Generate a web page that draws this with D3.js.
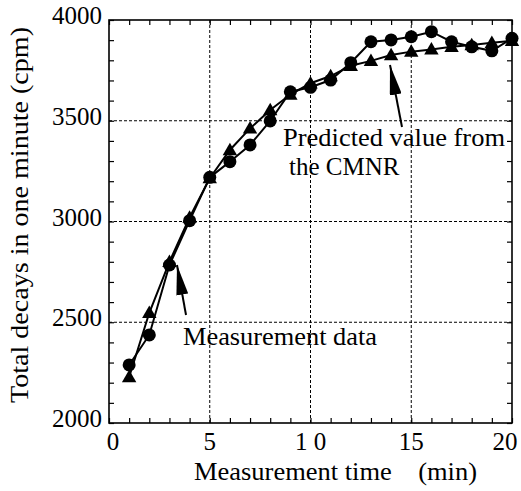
<!DOCTYPE html>
<html>
<head>
<meta charset="utf-8">
<script src="https://cdn.jsdelivr.net/npm/d3@7"></script>
</head>
<body style="margin:0">
<script>
var times = [1,2,3,4,5,6,7,8,9,10,11,12,13,14,15,16,17,18,19,20];
var measured = [2288,2437,2784,3004,3219,3297,3380,3499,3644,3666,3702,3788,3892,3901,3917,3942,3892,3867,3847,3909];
var predicted = [2228,2547,2800,3020,3215,3355,3462,3553,3630,3686,3722,3773,3797,3826,3843,3854,3867,3876,3887,3897];
var xTickLabels = ["0","5","1 0","15","20"];
var yTickLabels = ["2000","2500","3000","3500","4000"];

var width = 521, height = 491;
var margin = {left:109, right:9, top:20, bottom:68};

var x = d3.scaleLinear().domain([0, 20]).range([margin.left, width - margin.right]);
var y = d3.scaleLinear().domain([2000, 4000]).range([height - margin.bottom, margin.top]);

var svg = d3.select("body").append("svg").attr("width", width).attr("height", height);

function label(sel) {
  return sel.append("text").attr("font-size", 25).style("font-family", "\"Liberation Serif\"");
}

// dashed grid at the major values
var grid = svg.append("g").attr("stroke", "#000").attr("stroke-width", 1).attr("stroke-dasharray", "3,2");
grid.selectAll("line.gx").data([5,10,15]).enter().append("line")
  .attr("x1", function(d){ return x(d); }).attr("x2", function(d){ return x(d); })
  .attr("y1", y(2000)).attr("y2", y(4000));
grid.selectAll("line.gy").data([2500,3000,3500]).enter().append("line")
  .attr("y1", function(d){ return y(d); }).attr("y2", function(d){ return y(d); })
  .attr("x1", x(0)).attr("x2", x(20));

// inward minor ticks on all four sides
var minorX = d3.range(0, 21, 1), minorY = d3.range(2000, 4001, 100);
function tickAxis(axis, tr) {
  var g = svg.append("g").attr("transform", tr).call(axis);
  g.selectAll("text").remove();
  g.select(".domain").remove();
  g.selectAll("line").attr("stroke-width", 1.2);
}
tickAxis(d3.axisBottom(x).tickValues(minorX).tickSize(-5), "translate(0," + y(2000) + ")");
tickAxis(d3.axisTop(x).tickValues(minorX).tickSize(-5), "translate(0," + y(4000) + ")");
tickAxis(d3.axisLeft(y).tickValues(minorY).tickSize(-5), "translate(" + x(0) + ",0)");
tickAxis(d3.axisRight(y).tickValues(minorY).tickSize(-5), "translate(" + x(20) + ",0)");

// frame
svg.append("rect").attr("x", x(0)).attr("y", y(4000))
  .attr("width", x(20) - x(0)).attr("height", y(2000) - y(4000))
  .attr("fill", "none").attr("stroke", "#000").attr("stroke-width", 1.6);

// tick labels
var xl = svg.append("g");
xTickLabels.forEach(function(d, i) {
  var v = i * 5;
  label(xl).attr("x", x(v) + (v === 0 ? 4 : v === 20 ? -7 : 0))
    .attr("y", y(2000) + 27).attr("text-anchor", "middle")
    .style("white-space", "pre").text(d);
});
var yl = svg.append("g");
yTickLabels.forEach(function(d) {
  label(yl).attr("x", x(0) - 7).attr("y", y(+d) + 4)
    .attr("text-anchor", "end").text(d);
});

// axis titles
label(svg).attr("x", 194).attr("y", 480)
  .attr("textLength", 283).attr("lengthAdjust", "spacingAndGlyphs")
  .style("white-space", "pre")
  .text("Measurement time    (min)");
label(svg).attr("transform", "translate(28,215) rotate(-90)")
  .attr("text-anchor", "middle")
  .attr("textLength", 376).attr("lengthAdjust", "spacingAndGlyphs")
  .text("Total decays in one minute (cpm)");

// series
var line = d3.line().x(function(d){ return x(d[0]); }).y(function(d){ return y(d[1]); });
var predPts = times.map(function(t, i){ return [t, predicted[i]]; });
var measPts = times.map(function(t, i){ return [t, measured[i]]; });

svg.append("path").datum(predPts).attr("d", line)
  .attr("fill", "none").attr("stroke", "#000").attr("stroke-width", 2);
svg.append("g").selectAll("path").data(predPts).enter().append("path")
  .attr("d", d3.symbol().type(d3.symbolTriangle).size(90))
  .attr("transform", function(d){ return "translate(" + x(d[0]) + "," + (y(d[1]) + 1) + ")"; })
  .attr("fill", "#000");

svg.append("path").datum(measPts).attr("d", line)
  .attr("fill", "none").attr("stroke", "#000").attr("stroke-width", 2);
svg.append("g").selectAll("circle").data(measPts).enter().append("circle")
  .attr("cx", function(d){ return x(d[0]); })
  .attr("cy", function(d){ return y(d[1]); })
  .attr("r", 6.5).attr("fill", "#000");

// annotations with arrows
svg.append("defs").append("marker").attr("id", "head")
  .attr("viewBox", "0 0 30 12").attr("refX", 30).attr("refY", 6)
  .attr("markerWidth", 30).attr("markerHeight", 12).attr("markerUnits", "userSpaceOnUse")
  .attr("orient", "auto")
  .append("path").attr("d", "M0,0 L30,6 L0,12 Z").attr("fill", "#000");

svg.append("line").attr("x1", 402).attr("y1", 127).attr("x2", 390).attr("y2", 65)
  .attr("stroke", "#000").attr("stroke-width", 2).attr("marker-end", "url(#head)");
svg.append("line").attr("x1", 186).attr("y1", 315).attr("x2", 177).attr("y2", 265)
  .attr("stroke", "#000").attr("stroke-width", 2).attr("marker-end", "url(#head)");

label(svg).attr("x", 283).attr("y", 146)
  .attr("textLength", 222).attr("lengthAdjust", "spacingAndGlyphs")
  .text("Predicted value from");
label(svg).attr("x", 289).attr("y", 175).text("the CMNR");
label(svg).attr("x", 183).attr("y", 345)
  .attr("textLength", 194).attr("lengthAdjust", "spacingAndGlyphs")
  .text("Measurement data");
</script>
</body>
</html>
